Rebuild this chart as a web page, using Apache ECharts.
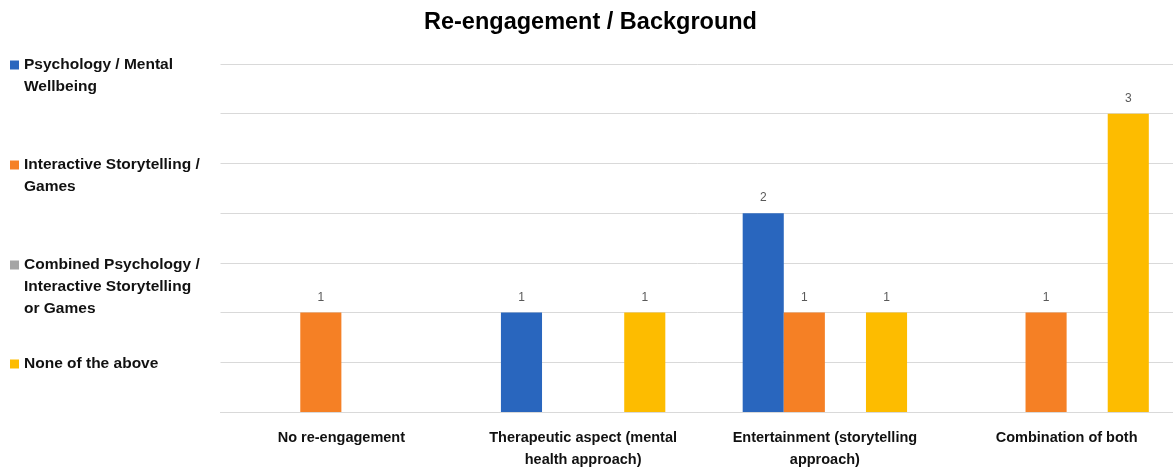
<!DOCTYPE html>
<html>
<head>
<meta charset="utf-8">
<script src="https://cdn.jsdelivr.net/npm/echarts@6/dist/echarts.min.js"></script>
<style>
  html, body { margin: 0; padding: 0; background: #fff; }
  #chart { width: 1173px; height: 468px; }
</style>
</head>
<body>
<div id="chart"></div>
<script>
const titleText = 'Re-engagement / Background';
const categories = [
  'No re-engagement',
  'Therapeutic aspect (mental\nhealth approach)',
  'Entertainment (storytelling\napproach)',
  'Combination of both'
];
const seriesNames = [
  'Psychology / Mental Wellbeing',
  'Interactive Storytelling / Games',
  'Combined Psychology / Interactive Storytelling or Games',
  'None of the above'
];
// legend text as it wraps beside each swatch
const legendLines = [
  ['Psychology / Mental', 'Wellbeing'],
  ['Interactive Storytelling /', 'Games'],
  ['Combined Psychology /', 'Interactive Storytelling', 'or Games'],
  ['None of the above']
];
const psychology = [0, 1, 2, 0];
const storytelling = [1, 0, 1, 1];
const combined = [0, 0, 0, 0];
const noneAbove = [0, 1, 1, 3];
const seriesValues = [psychology, storytelling, combined, noneAbove];
const colors = ['#2966BE', '#F58025', '#A5A5A5', '#FDBC00'];

const FONT = '"Liberation Sans", Arial, sans-serif';
const LINE_H = 22;
// vertical centre of each legend entry's first line
const legendFirstLine = [65, 165, 265, 364];

// The swatch sits at the middle of the text block, so blank lines are put
// in front of the text to keep the swatch level with its first line.
function legendText(lines) {
  const pad = new Array(lines.length - 1).fill(' ');
  return pad.concat(lines).join('\n');
}

const chart = echarts.init(document.getElementById('chart'));
chart.setOption({
  animation: false,
  color: colors,
  title: {
    text: titleText,
    left: 419,
    top: 6,
    textStyle: { fontFamily: FONT, fontSize: 23.5, fontWeight: 'bold', color: '#000' }
  },
  legend: seriesNames.map((name, i) => ({
    data: [name],
    orient: 'vertical',
    left: 10,
    top: legendFirstLine[i] - (2 * legendLines[i].length - 1) * LINE_H / 2,
    padding: 0,
    itemWidth: 9,
    itemHeight: 9,
    itemGap: 0,
    icon: 'rect',
    selectedMode: false,
    formatter: () => legendText(legendLines[i]),
    textStyle: {
      fontFamily: FONT,
      fontSize: 15.5,
      fontWeight: 'bold',
      color: '#111',
      lineHeight: LINE_H
    }
  })),
  grid: { left: 220.5, top: 64, bottom: 56, width: 967, outerBoundsMode: 'none', containLabel: false },
  xAxis: {
    type: 'category',
    data: categories,
    axisLine: { lineStyle: { color: '#D9D9D9', width: 1 } },
    axisTick: { show: false },
    axisLabel: {
      interval: 0,
      margin: 15,
      fontFamily: FONT,
      fontSize: 14.5,
      fontWeight: 'bold',
      color: '#111',
      lineHeight: 22
    }
  },
  yAxis: {
    type: 'value',
    min: 0,
    max: 3.5,
    interval: 0.5,
    axisLabel: { show: false },
    axisLine: { show: false },
    axisTick: { show: false },
    splitLine: { lineStyle: { color: '#D9D9D9', width: 1 } }
  },
  series: seriesNames.map((name, i) => ({
    name: name,
    type: 'bar',
    data: seriesValues[i],
    barGap: '0%',
    barCategoryGap: '32%',
    itemStyle: { color: colors[i] },
    label: {
      show: true,
      position: 'top',
      distance: 9,
      fontFamily: FONT,
      fontSize: 12,
      color: '#595959',
      formatter: p => (p.value ? String(p.value) : '')
    }
  }))
});
</script>
</body>
</html>
